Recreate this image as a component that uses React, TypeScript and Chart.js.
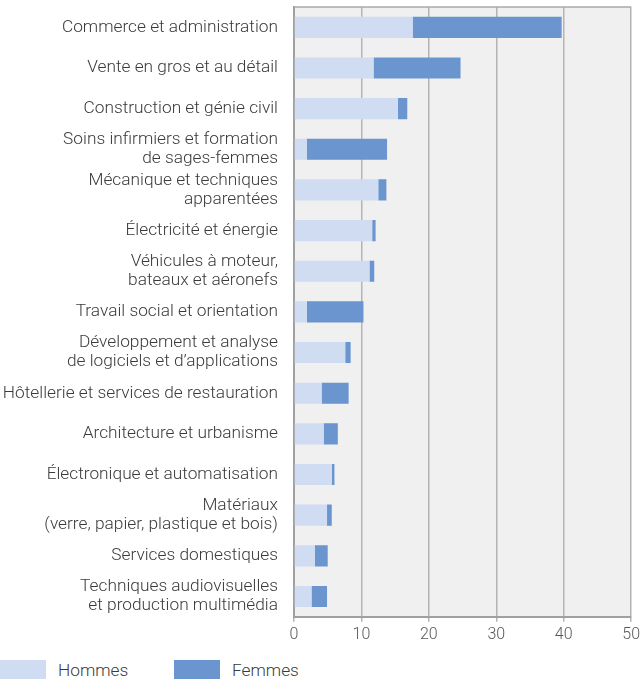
import React, { useEffect, useRef } from "react";
import { Chart, registerables } from "chart.js";

Chart.register(...registerables);

const categories: (string | string[])[] = [
  "Commerce et administration",
  "Vente en gros et au détail",
  "Construction et génie civil",
  ["Soins infirmiers et formation", "de sages-femmes"],
  ["Mécanique et techniques", "apparentées"],
  "Électricité et énergie",
  ["Véhicules à moteur,", "bateaux et aéronefs"],
  "Travail social et orientation",
  ["Développement et analyse", "de logiciels et d’applications"],
  "Hôtellerie et services de restauration",
  "Architecture et urbanisme",
  "Électronique et automatisation",
  ["Matériaux", "(verre, papier, plastique et bois)"],
  "Services domestiques",
  ["Techniques audiovisuelles", "et production multimédia"],
];

const hommes = [17.6, 11.8, 15.4, 1.9, 12.5, 11.6, 11.2, 1.9, 7.6, 4.1, 4.4, 5.6, 4.9, 3.1, 2.6];
const femmes = [22.1, 12.9, 1.4, 11.9, 1.2, 0.5, 0.7, 8.4, 0.8, 4.0, 2.1, 0.4, 0.7, 1.9, 2.3];

const xTicks = [0, 10, 20, 30, 40, 50];

const seriesNames = ["Hommes", "Femmes"];
const seriesColors = ["#CFDCF2", "#6A95CE"];

const FONT = "Roboto, 'Noto Sans', sans-serif";

const plotBg = {
  id: "plotBg",
  beforeDraw(chart: any) {
    const { ctx, chartArea } = chart;
    if (!chartArea) return;
    ctx.save();
    ctx.fillStyle = "#F0F0F0";
    ctx.fillRect(chartArea.left, chartArea.top, chartArea.right - chartArea.left, chartArea.bottom - chartArea.top);
    ctx.restore();
  },
  afterDraw(chart: any) {
    const { ctx, chartArea } = chart;
    if (!chartArea) return;
    ctx.save();
    ctx.strokeStyle = "#A8A8A8";
    ctx.lineWidth = 1.5;
    ctx.beginPath();
    ctx.moveTo(chartArea.left, chartArea.top);
    ctx.lineTo(chartArea.right, chartArea.top);
    ctx.stroke();
    ctx.restore();
  },
};

export default function App() {
  const ref = useRef<HTMLCanvasElement | null>(null);

  useEffect(() => {
    if (!ref.current) return;
    const chart = new Chart(ref.current, {
      type: "bar",
      data: {
        labels: categories,
        datasets: [
          {
            label: seriesNames[0],
            data: hommes,
            backgroundColor: seriesColors[0],
            borderWidth: 0,
            categoryPercentage: 1,
            barPercentage: 0.52,
          },
          {
            label: seriesNames[1],
            data: femmes,
            backgroundColor: seriesColors[1],
            borderWidth: 0,
            categoryPercentage: 1,
            barPercentage: 0.52,
          },
        ],
      },
      options: {
        indexAxis: "y",
        animation: false,
        responsive: true,
        maintainAspectRatio: false,
        layout: { padding: { top: 7, right: 10, bottom: 7, left: 0 } },
        plugins: {
          legend: { display: false },
          tooltip: { enabled: false },
        },
        scales: {
          x: {
            stacked: true,
            min: 0,
            max: 50,
            afterBuildTicks(scale: any) {
              scale.ticks = xTicks.map((v) => ({ value: v }));
            },
            grid: {
              color: "#B4B4B4",
              lineWidth: 1.5,
              tickLength: 5,
              drawTicks: true,
            },
            border: { color: "#A0A0A0", width: 2 },
            ticks: {
              padding: 4,
              color: "#595959",
              font: { family: FONT, size: 16, weight: "300" },
            },
          },
          y: {
            stacked: true,
            afterFit(scale: any) {
              scale.width = 294;
              scale.paddingTop = 0;
              scale.paddingBottom = 0;
            },
            grid: { display: false, drawTicks: false },
            border: { color: "#A0A0A0", width: 2 },
            ticks: {
              padding: 16,
              color: "#3A3A3A",
              font: { family: FONT, size: 17.3, weight: "300", lineHeight: 1.1 },
              autoSkip: false,
            },
          },
        },
      },
      plugins: [plotBg],
    });
    return () => chart.destroy();
  }, []);

  return (
    <div style={{ position: "absolute", left: 0, top: 0, width: 644, height: 679, background: "#fff" }}>
      <div style={{ position: "absolute", left: 0, top: 0, width: 644, height: 656 }}>
        <canvas ref={ref} />
      </div>
      <div
        style={{
          position: "absolute",
          left: 0,
          top: 660,
          height: 19,
          display: "flex",
          alignItems: "center",
          fontFamily: FONT,
          fontWeight: 300,
          fontSize: 17.3,
          color: "#3A3A3A",
        }}
      >
        {seriesNames.map((n, i) => (
          <div key={n} style={{ display: "flex", alignItems: "center", width: i === 0 ? 174 : undefined }}>
            <span style={{ display: "inline-block", width: 46, height: 19, background: seriesColors[i], marginRight: 12 }} />
            <span>{n}</span>
          </div>
        ))}
      </div>
    </div>
  );
}
